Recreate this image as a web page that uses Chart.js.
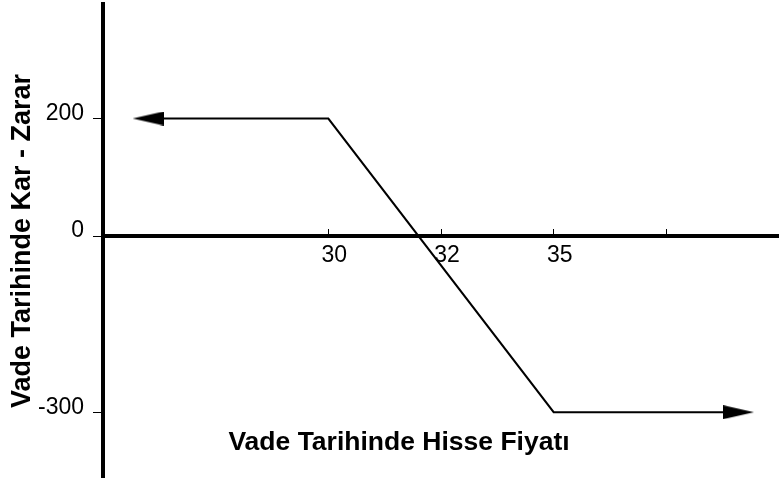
<!DOCTYPE html>
<html lang="tr">
<head>
  <meta charset="UTF-8">
  <title>Vade Tarihinde Kar - Zarar</title>
  <script src="https://cdn.jsdelivr.net/npm/chart.js"></script>
  <style>
    html, body { margin: 0; padding: 0; background: #fff; }
  </style>
</head>
<body>
  <div style="width: 779px; height: 478px;">
    <canvas id="payoffChart"></canvas>
  </div>

  <script>
    // hisse fiyati (x) ve vade tarihindeki kar-zarar (y); uc noktalar ok baslari
    const prices = [26, 30, 35, 39.1];
    const profits = [200, 200, -300, -300];
    const xTickValues = [30, 32.5, 35, 37.5];
    const xTickLabels = ['30', '32', '35', ''];
    const yTickValues = [-300, 0, 200];
    const yTickLabels = ['-300', '0', '200'];
    const xTitle = 'Vade Tarihinde Hisse Fiyatı';
    const yTitle = 'Vade Tarihinde Kar - Zarar';

    const fontFamily = '"Liberation Sans", Arial, sans-serif';

    // ok basi: saga bakan ince ucgen
    function makeArrow() {
      const c = document.createElement('canvas');
      c.width = 31;
      c.height = 14;
      const g = c.getContext('2d');
      g.fillStyle = '#000';
      g.beginPath();
      g.moveTo(0, 0);
      g.lineTo(31, 7);
      g.lineTo(0, 14);
      g.closePath();
      g.fill();
      return c;
    }
    const arrow = makeArrow();

    const xTitlePlugin = {
      id: 'xTitle',
      afterDraw(chart) {
        const ctx = chart.ctx;
        ctx.save();
        ctx.font = 'bold 26.5px ' + fontFamily;
        ctx.fillStyle = '#000';
        ctx.textAlign = 'center';
        ctx.textBaseline = 'middle';
        ctx.fillText(xTitle, 399, 443);
        ctx.restore();
      }
    };

    const data = {
      datasets: [{
        data: prices.map((p, i) => ({ x: p, y: profits[i] })),
        borderColor: '#000',
        borderWidth: 2,
        tension: 0,
        fill: false,
        pointStyle: [arrow, 'circle', 'circle', arrow],
        pointRotation: [180, 0, 0, 0],
        pointRadius: [8, 0, 0, 8],
        pointBackgroundColor: '#000',
        pointBorderWidth: 0
      }]
    };

    const config = {
      type: 'line',
      data: data,
      plugins: [xTitlePlugin],
      options: {
        responsive: true,
        maintainAspectRatio: false,
        animation: false,
        events: [],
        layout: { autoPadding: false, padding: { top: 4, right: 0, bottom: 0, left: 0 } },
        plugins: {
          legend: { display: false },
          tooltip: { enabled: false }
        },
        scales: {
          x: {
            type: 'linear',
            min: 25,
            max: 40,
            position: { y: 0 },
            afterBuildTicks: s => { s.ticks = xTickValues.map(v => ({ value: v })); },
            afterFit: s => { s.paddingLeft = 0; s.paddingRight = 0; },
            ticks: {
              callback: v => xTickLabels[xTickValues.indexOf(v)],
              color: '#000',
              font: { family: fontFamily, size: 23 },
              padding: 15,
              labelOffset: 6,
              maxRotation: 0,
              autoSkip: false
            },
            grid: { drawOnChartArea: false, tickLength: -9, tickWidth: 1, tickColor: '#000' },
            border: { color: '#000', width: 4 }
          },
          y: {
            type: 'linear',
            min: -412,
            max: 395,
            afterBuildTicks: s => { s.ticks = yTickValues.map(v => ({ value: v })); },
            afterFit: s => { s.width = 103; s.paddingTop = 0; s.paddingBottom = 0; },
            ticks: {
              callback: v => yTickLabels[yTickValues.indexOf(v)],
              color: '#000',
              font: { family: fontFamily, size: 23 },
              padding: 9,
              labelOffset: -5
            },
            grid: { drawOnChartArea: false, tickLength: 10, tickWidth: 1, tickColor: '#000' },
            border: { color: '#000', width: 4 },
            title: {
              display: true,
              text: yTitle,
              color: '#000',
              font: { family: fontFamily, size: 27, weight: 'bold' },
              padding: { top: 6, bottom: 0 }
            }
          }
        }
      }
    };

    new Chart(document.getElementById('payoffChart'), config);
  </script>
</body>
</html>
